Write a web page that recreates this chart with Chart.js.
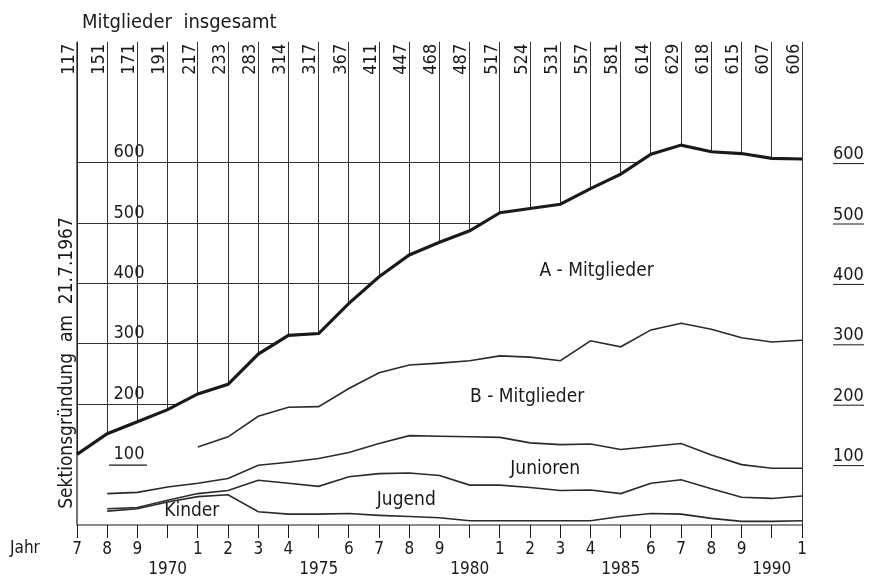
<!DOCTYPE html>
<html>
<head>
<meta charset="utf-8">
<script src="https://cdn.jsdelivr.net/npm/chart.js@4.4.1/dist/chart.umd.min.js"></script>
<style>
  html, body { margin: 0; padding: 0; background: #fff; }
</style>
</head>
<body>
<canvas id="chart" width="869" height="587" style="width:869px;height:587px;display:block"></canvas>
<script>
// Data
const years = [1967, 1968, 1969, 1970, 1971, 1972, 1973, 1974, 1975, 1976, 1977, 1978, 1979,
               1980, 1981, 1982, 1983, 1984, 1985, 1986, 1987, 1988, 1989, 1990, 1991];
// Mitglieder insgesamt (top labels + thick line)
const total = [117, 151, 171, 191, 217, 233, 283, 314, 317, 367, 411, 447, 468,
               487, 517, 524, 531, 557, 581, 614, 629, 618, 615, 607, 606];
// upper edge of the B-Mitglieder band (cumulative)
const bLine = [null, null, null, null, 129, 146, 180, 195, 196, 226, 252, 265, 268,
               272, 280, 278, 272, 305, 295, 323, 334, 324, 310, 303, 306];
// upper edge of the Junioren band
const junLine = [null, 52, 54, 63, 69, 77, 99, 104, 110, 120, 135, 148, 147,
                 146, 145, 136, 133, 134, 125, 130, 135, 116, 100, 94, 94];
// upper edge of the Jugend band
const jugLine = [null, 27, 29, 41, 52, 57, 74, 69, 64, 80, 85, 86, 82,
                 66, 66, 62, 57, 58, 52, 69, 75, 60, 46, 44, 48];
// upper edge of the Kinder band
const kinLine = [null, 23, 27, 38, 47, 50, 22, 18, 18, 19, 16, 14, 12,
                 7, 7, 7, 7, 7, 14, 19, 18, 11, 6, 6, 7];
const scaleTicks = [100, 200, 300, 400, 500, 600];

const FONT = '"DejaVu Sans Condensed", "DejaVu Sans", sans-serif';
const INK = '#1a1a1a';

// area names, placed at (year index, value)
const areaNames = [
  { text: 'A - Mitglieder', i: 17.2, v: 420 },
  { text: 'B - Mitglieder', i: 14.9, v: 212 },
  { text: 'Junioren', i: 15.5, v: 92 },
  { text: 'Jugend', i: 10.9, v: 41 },
  { text: 'Kinder', i: 3.8, v: 23 }
];

const decor = {
  id: 'decor',
  afterDatasetsDraw(chart) {
    const { ctx, chartArea: a, scales: { x, y } } = chart;
    ctx.save();
    ctx.strokeStyle = INK;
    ctx.fillStyle = INK;
    ctx.lineWidth = 1.2;

    // axis lines
    ctx.beginPath();
    ctx.moveTo(a.left, a.top);
    ctx.lineTo(a.left, a.bottom);
    ctx.lineTo(a.right, a.bottom);
    ctx.stroke();

    // scale numbers inside the grid, left side
    ctx.font = '18px ' + FONT;
    ctx.textAlign = 'center';
    ctx.textBaseline = 'bottom';
    for (const v of scaleTicks) {
      ctx.fillText(String(v), a.left + 52, y.getPixelForValue(v) - 1);
    }
    ctx.beginPath();
    ctx.moveTo(a.left + 32, y.getPixelForValue(100) + 0.5);
    ctx.lineTo(a.left + 70, y.getPixelForValue(100) + 0.5);
    ctx.stroke();

    // underline of right scale numbers
    ctx.lineWidth = 1;
    for (const v of scaleTicks) {
      const py = y.getPixelForValue(v) + 1;
      ctx.beginPath();
      ctx.moveTo(a.right + 31, py);
      ctx.lineTo(a.right + 62, py);
      ctx.stroke();
    }

    // totals written at the top of each year line
    ctx.font = '18px ' + FONT;
    total.forEach((t, i) => {
      ctx.save();
      ctx.translate(x.getPixelForValue(i) - 8, a.top + 2);
      ctx.rotate(-Math.PI / 2);
      ctx.textAlign = 'right';
      ctx.textBaseline = 'middle';
      ctx.fillText(String(t), 0, 0);
      ctx.restore();
    });

    // title
    ctx.font = '20px ' + FONT;
    ctx.textAlign = 'left';
    ctx.textBaseline = 'alphabetic';
    ctx.fillText('Mitglieder  insgesamt', 82, 28);

    // left vertical caption
    ctx.font = '19px ' + FONT;
    ctx.save();
    ctx.translate(67, 363);
    ctx.rotate(-Math.PI / 2);
    ctx.textAlign = 'center';
    ctx.textBaseline = 'middle';
    ctx.fillText('Sektionsgründung  am  21.7.1967', 0, 0);
    ctx.restore();

    // "Jahr"
    ctx.font = '17px ' + FONT;
    ctx.textBaseline = 'middle';
    ctx.fillText('Jahr', 10, 549);

    // band names
    ctx.font = '19px ' + FONT;
    ctx.textAlign = 'center';
    for (const n of areaNames) {
      ctx.fillText(n.text, x.getPixelForDecimal(n.i / (years.length - 1)), y.getPixelForValue(n.v));
    }
    ctx.restore();
  }
};

const lineStyle = { borderColor: '#2a2a2a', borderWidth: 1.6, pointRadius: 0, fill: false, order: 1 };

new Chart(document.getElementById('chart'), {
  type: 'line',
  data: {
    labels: years,
    datasets: [
      { label: 'insgesamt', data: total, borderColor: INK, borderWidth: 3.2, pointRadius: 0,
        fill: 'origin', backgroundColor: '#fff', order: 10 },
      { label: 'B', data: bLine, ...lineStyle },
      { label: 'Junioren', data: junLine, ...lineStyle },
      { label: 'Jugend', data: jugLine, ...lineStyle },
      { label: 'Kinder', data: kinLine, ...lineStyle }
    ]
  },
  options: {
    responsive: false,
    animation: false,
    events: [],
    layout: { padding: { top: 39, left: 0, right: 0, bottom: 0 } },
    elements: { line: { tension: 0 } },
    plugins: { legend: { display: false }, tooltip: { enabled: false } },
    scales: {
      x: {
        offset: false,
        border: { display: false },
        grid: { color: '#333', lineWidth: 1, drawTicks: true, tickLength: 13, tickColor: INK },
        ticks: {
          color: INK, font: { family: FONT, size: 17 }, padding: 1,
          autoSkip: false, maxRotation: 0,
          callback: (val, i) => years[i] % 5 === 0 ? ['', String(years[i])] : String(years[i] % 10)
        },
        afterFit: s => { s.height = 62; }
      },
      y: {
        min: 0, max: 800,
        border: { display: false },
        ticks: { display: false, stepSize: 100 },
        grid: {
          drawTicks: false, lineWidth: 1,
          color: c => (c.tick.value >= 100 && c.tick.value <= 600) ? '#333' : 'rgba(0,0,0,0)'
        },
        afterFit: s => { s.width = 77; }
      },
      y2: {
        position: 'right',
        min: 0, max: 800,
        border: { display: false },
        grid: { display: false, drawTicks: false },
        ticks: {
          stepSize: 100, color: INK, padding: 31, labelOffset: -8,
          font: { family: FONT, size: 18 },
          callback: v => scaleTicks.includes(v) ? String(v) : ''
        },
        afterFit: s => { s.width = 67; }
      }
    }
  },
  plugins: [decor]
});
</script>
</body>
</html>
